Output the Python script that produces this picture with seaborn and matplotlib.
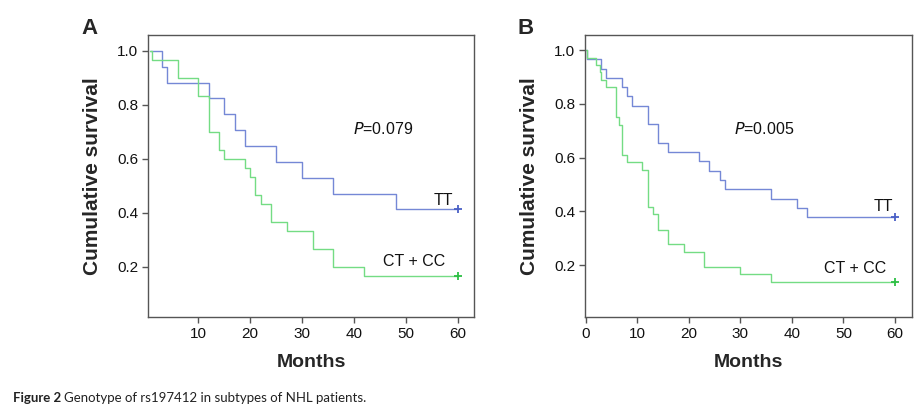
import matplotlib
matplotlib.use("Agg")
import matplotlib.pyplot as plt
import seaborn as sns

# Panel A - survival steps
a_tt_time = [0.7, 3, 4, 12, 15, 17, 19, 25, 30, 36, 48, 60]
a_tt_surv = [1.0, 0.941, 0.882, 0.824, 0.765, 0.706, 0.647, 0.588, 0.529, 0.471, 0.412, 0.412]
a_cc_time = [0.7, 1, 6, 10, 12, 14, 15, 19, 20, 21, 22, 24, 27, 32, 36, 42, 60]
a_cc_surv = [1.0, 0.967, 0.900, 0.833, 0.700, 0.633, 0.600, 0.567, 0.533, 0.467,
             0.433, 0.367, 0.333, 0.267, 0.200, 0.167, 0.167]

# Panel B
b_tt_time = [0, 0.3, 3, 4, 7, 8, 9, 12, 14, 16, 22, 24, 26, 27, 36, 41, 43, 60]
b_tt_surv = [1.0, 0.966, 0.931, 0.897, 0.862, 0.828, 0.793, 0.724, 0.655, 0.621,
             0.586, 0.552, 0.517, 0.483, 0.448, 0.414, 0.379, 0.379]
b_cc_time = [0, 0.3, 2, 2.8, 3, 3.9, 5.9, 6.5, 7, 8, 11, 12, 13, 14, 16, 19, 23, 30, 36, 60]
b_cc_surv = [1.0, 0.972, 0.944, 0.917, 0.889, 0.861, 0.750, 0.722, 0.611, 0.583,
             0.556, 0.417, 0.389, 0.333, 0.278, 0.250, 0.194, 0.167, 0.139, 0.139]

p_values = ["0.079", "0.005"]
panel_letters = ["A", "B"]
group_labels = ["TT", "CT + CC"]
y_ticks = [0.2, 0.4, 0.6, 0.8, 1.0]

blue, blue_mark = "#7588d6", "#4a60c6"
green, green_mark = "#74dc84", "#2dbf44"
spine_col = "#555555"

sns.set_style("ticks")
plt.rcParams["font.family"] = ["Liberation Sans", "DejaVu Sans"]

fig = plt.figure(figsize=(9.18, 4.13), dpi=100)
ax_a = fig.add_axes([0.1612, 0.2324, 0.3551, 0.6828])
ax_b = fig.add_axes([0.6373, 0.2324, 0.3562, 0.6828])

panels = [
    (ax_a, a_tt_time, a_tt_surv, a_cc_time, a_cc_surv, (0.3, 63.1), (0.0137, 1.058),
     [10, 20, 30, 40, 50, 60], (39.8, 0.71), (59.1, 0.444), (57.5, 0.221)),
    (ax_b, b_tt_time, b_tt_surv, b_cc_time, b_cc_surv, (-0.14, 63.3), (0.0077, 1.056),
     [0, 10, 20, 30, 40, 50, 60], (28.8, 0.706), (59.7, 0.417), (58.3, 0.189)),
]

for i, (ax, tt_t, tt_s, cc_t, cc_s, xl, yl, xt, p_pos, tt_pos, cc_pos) in enumerate(panels):
    sns.lineplot(x=tt_t, y=tt_s, ax=ax, color=blue, linewidth=1.0,
                 drawstyle="steps-post", estimator=None, sort=False)
    sns.lineplot(x=cc_t, y=cc_s, ax=ax, color=green, linewidth=1.0,
                 drawstyle="steps-post", estimator=None, sort=False)
    # censor marks at the end of follow-up
    sns.scatterplot(x=[tt_t[-1]], y=[tt_s[-1]], ax=ax, marker="+", s=28,
                    color=blue_mark, linewidth=1.3, zorder=5)
    sns.scatterplot(x=[cc_t[-1]], y=[cc_s[-1]], ax=ax, marker="+", s=28,
                    color=green_mark, linewidth=1.3, zorder=5)

    ax.set_xlim(*xl)
    ax.set_ylim(*yl)
    ax.set_xticks(xt)
    ax.set_yticks(y_ticks)
    ax.set_yticklabels([f"{v:.1f}" for v in y_ticks])
    ax.tick_params(direction="out", length=4, width=1, color=spine_col,
                   labelsize=11, labelcolor="#111111", pad=3)
    for sp in ax.spines.values():
        sp.set_visible(True)
        sp.set_color(spine_col)
        sp.set_linewidth(1.0)

    ax.set_xlabel("Months", fontsize=14, fontweight="bold")
    ax.set_ylabel("Cumulative survival", fontsize=15, fontweight="bold")
    ax.xaxis.set_label_coords(0.5, -0.13)
    ax.yaxis.set_label_coords(-0.14, 0.5)

    ax.text(p_pos[0], p_pos[1], "$\\it{P}$=" + p_values[i], fontsize=11.5,
            ha="left", va="center", color="#111111")
    ax.text(tt_pos[0], tt_pos[1], group_labels[0], fontsize=11.5, ha="right",
            va="center", color="#111111")
    ax.text(cc_pos[0], cc_pos[1], group_labels[1], fontsize=11.5, ha="right",
            va="center", color="#111111")

fig.text(0.097, 0.932, panel_letters[0], fontsize=16, fontweight="bold",
         ha="center", va="center")
fig.text(0.572, 0.932, panel_letters[1], fontsize=16, fontweight="bold",
         ha="center", va="center")

# caption: bold "Figure 2" followed by plain text
cap1 = fig.text(0.0142, 0.027, "Figure 2", fontsize=9.5, fontweight="bold",
                family=["Lato", "DejaVu Sans"], color="#222222", va="baseline")
fig.canvas.draw()
bb = cap1.get_window_extent()
x_next = (bb.x1 + 3) / fig.bbox.width
fig.text(x_next, 0.027, "Genotype of rs197412 in subtypes of NHL patients.",
         fontsize=9.5, family=["Lato", "DejaVu Sans"], color="#222222", va="baseline")

fig.savefig("out.png", dpi=100)
